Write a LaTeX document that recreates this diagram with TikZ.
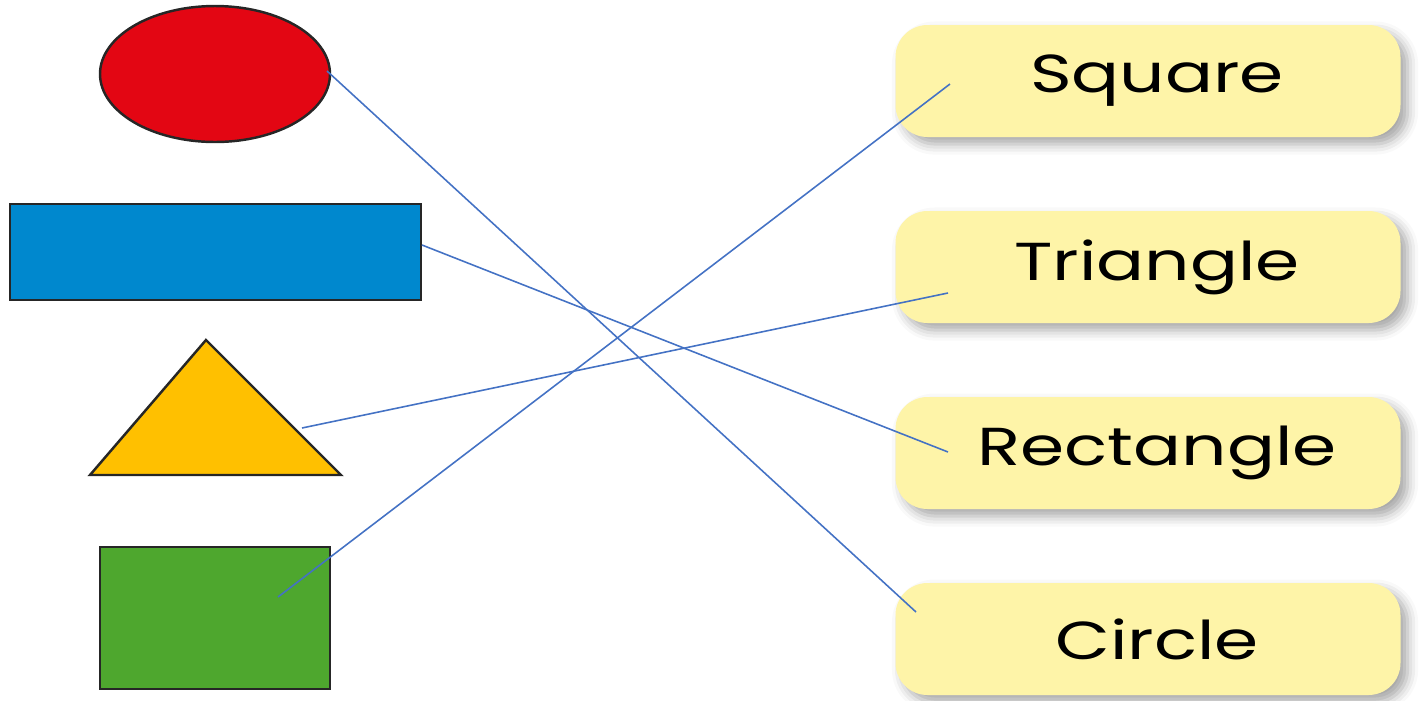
\documentclass[tikz,border=0pt]{standalone}
\usepackage{fontspec}
\newfontfamily\labelfont[FakeStretch=1.33]{Poppins}
\usetikzlibrary{shapes.geometric,shadows.blur}

\definecolor{shapered}{RGB}{227,6,19}
\definecolor{shapeblue}{RGB}{0,136,206}
\definecolor{shapeyellow}{RGB}{255,192,0}
\definecolor{shapegreen}{RGB}{78,167,46}
\definecolor{boxyellow}{RGB}{254,244,168}
\definecolor{linkblue}{RGB}{68,114,196}

\tikzset{
    shapeline/.style={draw=black!85, line width=0.7pt, inner sep=0pt, outer sep=0pt},
    namebox/.style={rounded corners=0.32cm, fill=boxyellow, minimum width=5.05cm,
        minimum height=1.12cm, font=\labelfont\fontsize{15.2}{17}\selectfont,
        blur shadow={shadow xshift=2pt, shadow yshift=-2pt, shadow blur radius=3pt,
        shadow opacity=35}},
    link/.style={draw=linkblue, line width=0.45pt}
}

\begin{document}
\begin{tikzpicture}
    \useasboundingbox (0,0) rectangle (14.25,-7.01);
    % Shapes on the left
    \node[shapeline, ellipse, fill=shapered, minimum width=2.3cm, minimum height=1.36cm] (circ) at (2.15,-0.74) {};
    \node[shapeline, rectangle, fill=shapeblue, minimum width=4.11cm, minimum height=0.96cm] (rect) at (2.155,-2.52) {};
    \coordinate (tri-top) at (2.06,-3.40);
    \coordinate (tri-left) at (0.90,-4.75);
    \coordinate (tri-right) at (3.41,-4.75);
    \filldraw[shapeline, fill=shapeyellow, line join=miter] (tri-top) -- (tri-left) -- (tri-right) -- cycle;
    \node[shapeline, rectangle, fill=shapegreen, minimum width=2.3cm, minimum height=1.42cm] (sq) at (2.15,-6.18) {};
    % Names on the right
    \foreach \nm/\txt/\y in {lsq/Square/0.81, ltri/Triangle/2.67, lrect/Rectangle/4.53, lcirc/Circle/6.39} {
        \node[namebox] (\nm) at (11.48,-\y) {\hspace*{0.18cm}\txt};
    }
    % End points of the matching lines
    \coordinate (circ-pt) at (3.27,-0.71);
    \coordinate (rect-pt) at (4.22,-2.45);
    \coordinate (tri-pt) at (3.02,-4.28);
    \coordinate (sq-pt) at (2.78,-5.97);
    \coordinate (lsq-pt) at (9.50,-0.84);
    \coordinate (ltri-pt) at (9.48,-2.93);
    \coordinate (lrect-pt) at (9.48,-4.52);
    \coordinate (lcirc-pt) at (9.16,-6.12);
    % Matching lines
    \draw[link] (circ-pt) -- (lcirc-pt);
    \draw[link] (rect-pt) -- (lrect-pt);
    \draw[link] (tri-pt) -- (ltri-pt);
    \draw[link] (sq-pt) -- (lsq-pt);
\end{tikzpicture}
\end{document}
